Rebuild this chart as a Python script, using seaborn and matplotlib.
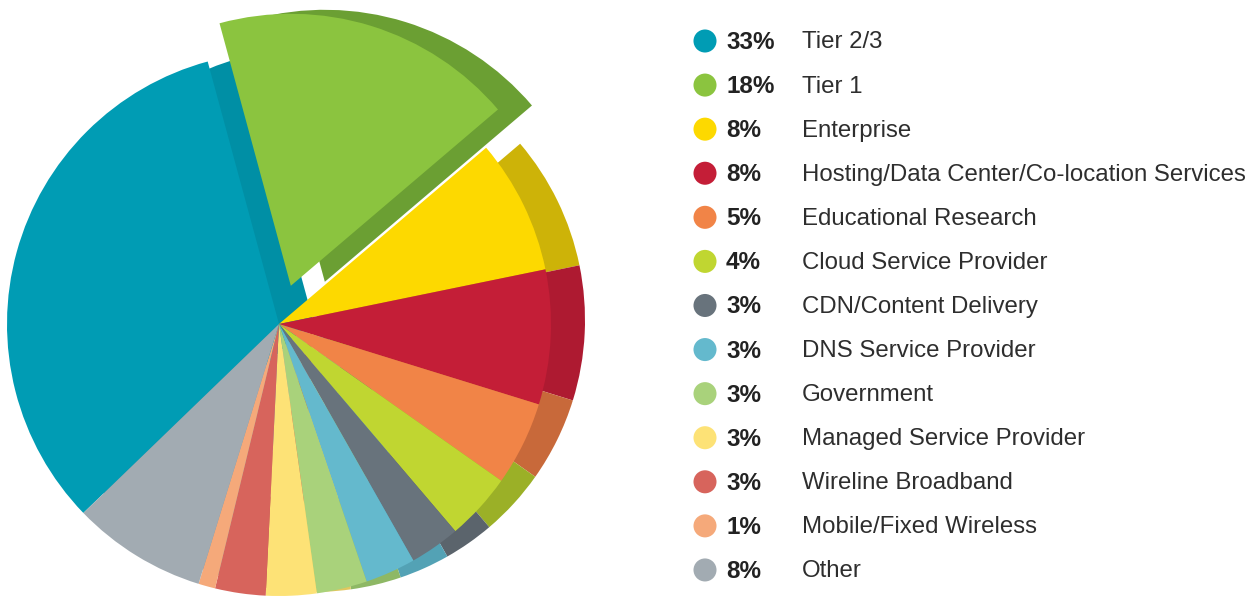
import numpy as np
import pandas as pd
import matplotlib
matplotlib.use("Agg")
import matplotlib.pyplot as plt
import seaborn as sns

# Segment data
categories = [
    "Tier 2/3", "Tier 1", "Enterprise", "Hosting/Data Center/Co-location Services",
    "Educational Research", "Cloud Service Provider", "CDN/Content Delivery",
    "DNS Service Provider", "Government", "Managed Service Provider",
    "Wireline Broadband", "Mobile/Fixed Wireless", "Other",
]
shares = [33, 18, 8, 8, 5, 4, 3, 3, 3, 3, 3, 1, 8]
pct_labels = ["33%", "18%", "8%", "8%", "5%", "4%", "3%", "3%", "3%", "3%", "3%", "1%", "8%"]

face_colors = [
    "#009cb4", "#8bc43f", "#fdd900", "#c41e37", "#f18447", "#c0d631",
    "#68737c", "#64b9cd", "#a9d27b", "#fde276", "#d7645c", "#f5a97a", "#a2abb2",
]
side_colors = [
    "#008fa5", "#6b9f33", "#cdb308", "#ae1a31", "#c8693a", "#9bb027",
    "#5b646c", "#53a2b5", "#8eb865", "#e0c75e", "#ba544d", "#d99365", "#8e969c",
]

sns.set_theme(style="white")
plt.rcParams["font.family"] = ["Liberation Sans", "DejaVu Sans"]

W, H = 1255, 599
fig = plt.figure(figsize=(W / 100, H / 100), dpi=100)
ax = fig.add_axes([0, 0, 1, 1])

# Pie geometry in pixel units (y measured upward)
cx, cy = 279, H - 324
radius = 272
explode = [0, 40] + [0] * (len(shares) - 2)
side_shift = (34, 4)

common = dict(radius=radius, explode=explode, startangle=224,
              counterclock=False, wedgeprops=dict(linewidth=0), frame=True)

# Extruded side: darker copy drawn behind the top face
side_wedges, _ = ax.pie(shares, colors=side_colors,
                        center=(cx + side_shift[0], cy + side_shift[1]), **common)
for w in side_wedges:
    w.set_zorder(1)
face_wedges, _ = ax.pie(shares, colors=face_colors, center=(cx, cy), **common)
for w in face_wedges:
    w.set_zorder(2)

# Legend: dots, bold percentages and category names
row_y = H - (41 + 44.08 * np.arange(len(categories)))
legend_df = pd.DataFrame({"x": 705.0, "y": row_y, "cat": categories})
sns.scatterplot(data=legend_df, x="x", y="y", hue="cat", palette=face_colors,
                s=275, linewidth=0, legend=False, ax=ax, zorder=3)
for y, pct, name in zip(row_y, pct_labels, categories):
    ax.text(726, y - 1.5, pct, fontsize=17.5, fontweight="bold", color="#222222",
            va="center", ha="left")
    ax.text(802, y - 1.5, name, fontsize=17.3, color="#2e2e2e",
            va="center", ha="left")

ax.set_xlim(0, W)
ax.set_ylim(0, H)
ax.set_aspect("equal")
ax.axis("off")

fig.savefig("out.png", dpi=100, facecolor="white")
